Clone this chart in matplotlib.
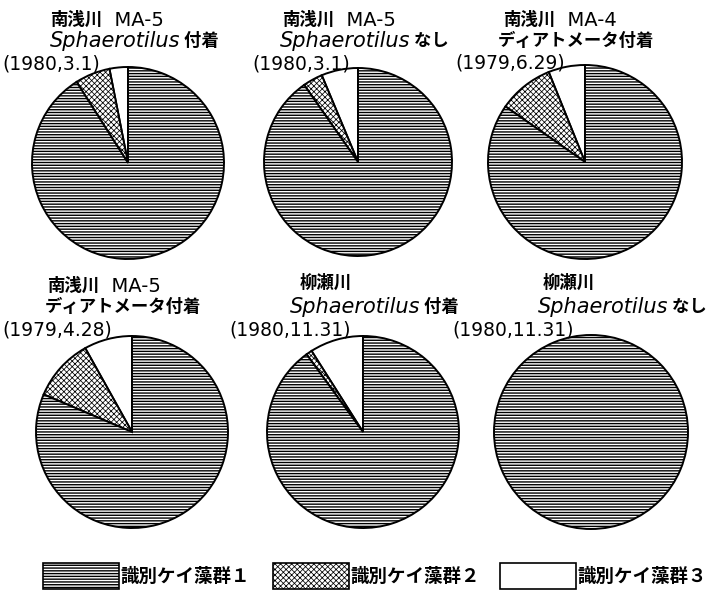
import matplotlib
matplotlib.use("Agg")
import matplotlib.pyplot as plt
from matplotlib.patches import Rectangle

plt.rcParams["font.family"] = ["Noto Sans CJK JP", "DejaVu Sans"]
plt.rcParams["hatch.linewidth"] = 1.0
plt.rcParams["hatch.color"] = "black"

# percentages per chart, order: group 3 (white), group 2 (stipple), group 1 (lines)
group_names = ["識別ケイ藻群１", "識別ケイ藻群２", "識別ケイ藻群３"]
river = ["南浅川", "南浅川", "南浅川", "南浅川", "柳瀬川", "柳瀬川"]
station = ["MA-5", "MA-5", "MA-4", "MA-5", "", ""]
subject = ["Sphaerotilus", "Sphaerotilus", "ディアトメータ付着",
           "ディアトメータ付着", "Sphaerotilus", "Sphaerotilus"]
suffix = ["付着", "なし", "", "", "付着", "なし"]
dates = ["(1980,3.1)", "(1980,3.1)", "(1979,6.29)",
         "(1979,4.28)", "(1980,11.31)", "(1980,11.31)"]
group3 = [3.1, 6.3, 6.1, 8.1, 9.0, 0.0]
group2 = [5.9, 3.4, 9.2, 10.5, 1.0, 0.0]
group1 = [91.0, 90.3, 84.7, 81.4, 90.0, 100.0]

W, H = 707, 593
FINE_HATCH = hasattr(Rectangle((0, 0), 1, 1), "set_hatch_linewidth")
HATCH = {"g1": "------", "g2": "xxxxxx" if FINE_HATCH else "xxxx", "g3": ""}
CJK_W = 600

# layout in image pixels (x, y from top)
centers = [(128, 163), (358, 162), (585, 162), (132, 432), (363, 432), (591, 432)]
radii = [96, 94, 97, 96, 96, 97]
title_xy = [(50, 20, 50, 41, 2, 64), (282, 20, 280, 41, 252, 64), (503, 20, 498, 41, 455, 63),
            (47, 286, 45, 307, 2, 330), (300, 283, 290, 307, 229, 330), (543, 283, 538, 307, 452, 330)]


def thin_stipple(patch):
    if FINE_HATCH and patch.get_hatch() == HATCH["g2"]:
        patch.set_hatch_linewidth(0.55)


fig = plt.figure(figsize=(W / 100, H / 100), dpi=100)
ax = fig.add_axes([0, 0, 1, 1])

for i in range(6):
    vals = [group3[i], group2[i], group1[i]]
    hatches = [HATCH["g3"], HATCH["g2"], HATCH["g1"]]
    keep = [k for k, v in enumerate(vals) if v > 0]
    cx, cy = centers[i]
    wedges, _ = ax.pie([vals[k] for k in keep], colors=["white"] * len(keep),
                       hatch=[hatches[k] for k in keep], startangle=90,
                       counterclock=True, center=(cx, H - cy), radius=radii[i],
                       frame=True, wedgeprops=dict(edgecolor="black", linewidth=1.4))
    for w in wedges:
        thin_stipple(w)

    x1, y1, x2, y2, xd, yd = title_xy[i]
    t = ax.text(x1, H - y1, river[i], fontsize=12.5, fontweight=CJK_W,
                ha="left", va="center")
    if station[i]:
        ax.annotate("  " + station[i], xy=(1, 0.5), xycoords=t, fontsize=14,
                    family="DejaVu Sans", ha="left", va="center",
                    annotation_clip=False)
    if subject[i] == "Sphaerotilus":
        t = ax.text(x2, H - y2, "Sphaerotilus", fontsize=15, style="italic",
                    family="DejaVu Sans", ha="left", va="center")
        ax.annotate(" " + suffix[i], xy=(1, 0.5), xycoords=t, fontsize=12.5,
                    fontweight=CJK_W, ha="left", va="center",
                    annotation_clip=False)
    else:
        ax.text(x2, H - y2, subject[i], fontsize=12.5, fontweight=CJK_W,
                ha="left", va="center")
    ax.text(xd, H - yd, dates[i], fontsize=13.5, family="DejaVu Sans",
            ha="left", va="center")

# legend
legend_x = [43, 273, 500]
legend_h = [HATCH["g1"], HATCH["g2"], HATCH["g3"]]
for x0, h, name in zip(legend_x, legend_h, group_names):
    box = Rectangle((x0, H - 589), 76, 26, facecolor="white",
                    edgecolor="black", linewidth=1.2, hatch=h)
    thin_stipple(box)
    ax.add_patch(box)
    ax.text(x0 + 77, H - 576, name, fontsize=13.3, fontweight=CJK_W,
            ha="left", va="center")

ax.set_xlim(0, W)
ax.set_ylim(0, H)
ax.set_aspect("equal")
ax.axis("off")

fig.savefig("out.png", dpi=100)
